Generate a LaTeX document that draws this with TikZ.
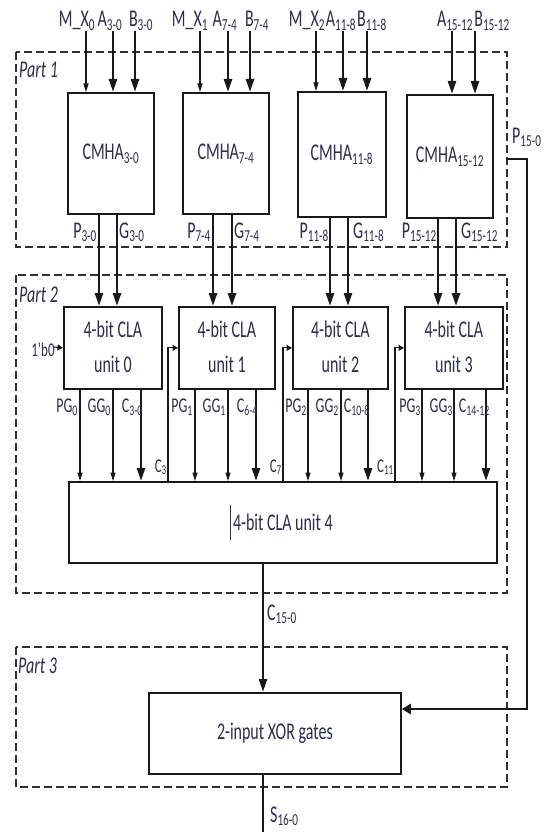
\documentclass[tikz,border=0pt]{standalone}
\usepackage{fontspec}
\setmainfont{Carlito}
\usepackage{graphicx}
\usetikzlibrary{arrows.meta}
\definecolor{textc}{RGB}{45,45,80}
\definecolor{linec}{RGB}{25,25,25}
\newcommand{\tallt}[1]{\scalebox{1}[1.5]{#1}}
\newcommand{\sbs}[1]{\textsubscript{#1}}
\begin{document}
\begin{tikzpicture}[x=1pt,y=-1pt,
  box/.style={draw=linec, line width=1.8pt, inner sep=0pt, anchor=north west,
    font=\fontsize{16}{23}\selectfont, text=textc},
  dashbox/.style={draw=linec!90, line width=1.8pt, dash pattern=on 8pt off 4pt},
  lab/.style={font=\fontsize{16}{19}\selectfont, text=textc, inner sep=0pt},
  slab/.style={font=\fontsize{14}{17}\selectfont, text=textc, inner sep=0pt},
  tlab/.style={font=\fontsize{13}{16}\selectfont, text=textc, inner sep=0pt},
  plab/.style={font=\fontsize{16}{19}\selectfont\itshape, text=textc, inner sep=0pt, anchor=west},
  thk/.style={draw=linec, line width=2.6pt, -{Triangle[length=13pt,width=8pt]}},
  thn/.style={draw=linec, line width=1.1pt, -{Triangle[length=8.5pt,width=5pt]}},
  harr/.style={draw=linec, line width=1.1pt, -{Triangle[length=5.5pt,width=6pt]}},
  parr/.style={draw=linec, line width=2.4pt, -{Triangle[length=9pt,width=10pt]}},
  thkline/.style={draw=linec, line width=2.6pt}
]
\useasboundingbox (0,0) rectangle (546,832);
\fill[white] (0,0) rectangle (546,832);

% dashed part frames
\draw[dashbox] (16,52) rectangle (507,247);
\draw[dashbox] (16,275) rectangle (507,593);
\draw[dashbox] (16,647) rectangle (507,787);
\node[plab] (part1) at (19,70) {\tallt{Part 1}};
\node[plab] (part2) at (19,295) {\tallt{Part 2}};
\node[plab] (part3) at (18,666) {\tallt{Part 3}};

% CMHA boxes
\node[box, minimum width=86pt, minimum height=121pt] (m0) at (67,92) {\tallt{CMHA\sbs{3-0}}};
\node[box, minimum width=86pt, minimum height=121pt] (m1) at (182,92) {\tallt{CMHA\sbs{7-4}}};
\node[box, minimum width=88pt, minimum height=125pt] (m2) at (297,91) {\tallt{CMHA\sbs{11-8}}};
\node[box, minimum width=86pt, minimum height=123pt] (m3) at (406,94) {\tallt{CMHA\sbs{15-12}}};

% CLA units
\node[box, minimum width=98pt, minimum height=82pt] (c0) at (63,306) {\tallt{\begin{tabular}{@{}c@{}}4-bit CLA\\unit 0\end{tabular}}};
\node[box, minimum width=96pt, minimum height=82pt] (c1) at (178,306) {\tallt{\begin{tabular}{@{}c@{}}4-bit CLA\\unit 1\end{tabular}}};
\node[box, minimum width=95pt, minimum height=82pt] (c2) at (292,306) {\tallt{\begin{tabular}{@{}c@{}}4-bit CLA\\unit 2\end{tabular}}};
\node[box, minimum width=98pt, minimum height=82pt] (c3) at (404,306) {\tallt{\begin{tabular}{@{}c@{}}4-bit CLA\\unit 3\end{tabular}}};
\node[box, minimum width=428pt, minimum height=81pt] (u4) at (68,481) {\tallt{4-bit CLA unit 4}};
\draw[textc, line width=1pt] (230.5,505) -- (230.5,540);

% XOR
\node[box, minimum width=252pt, minimum height=81pt] (xor) at (148,692) {\tallt{2-input XOR gates}};

% input labels
\node[lab, anchor=base] (lmx0) at (77,27) {\tallt{M\_X\sbs{0}}};
\node[lab, anchor=base] (la0) at (110,27) {\tallt{A\sbs{3-0}}};
\node[lab, anchor=base] (lb0) at (141,27) {\tallt{B\sbs{3-0}}};
\node[lab, anchor=base] (lmx1) at (190,27) {\tallt{M\_X\sbs{1}}};
\node[lab, anchor=base] (la1) at (225,27) {\tallt{A\sbs{7-4}}};
\node[lab, anchor=base] (lb1) at (257,27) {\tallt{B\sbs{7-4}}};
\node[lab, anchor=base] (lmx2) at (307,27) {\tallt{M\_X\sbs{2}}};
\node[lab, anchor=base] (la2) at (341,27) {\tallt{A\sbs{11-8}}};
\node[lab, anchor=base] (lb2) at (372,27) {\tallt{B\sbs{11-8}}};
\node[lab, anchor=base] (la3) at (455,27) {\tallt{A\sbs{15-12}}};
\node[lab, anchor=base] (lb3) at (492,27) {\tallt{B\sbs{15-12}}};

% input arrows
\draw[thn] (86,0 |- lmx0.south) -- (86,0 |- m0.north);
\draw[thk] (113,0 |- la0.south) -- (113,0 |- m0.north);
\draw[thk] (135,0 |- lb0.south) -- (135,0 |- m0.north);
\draw[thn] (200,0 |- lmx1.south) -- (200,0 |- m1.north);
\draw[thk] (228,0 |- la1.south) -- (228,0 |- m1.north);
\draw[thk] (250,0 |- lb1.south) -- (250,0 |- m1.north);
\draw[thn] (316,0 |- lmx2.south) -- (316,0 |- m2.north);
\draw[thk] (343,0 |- la2.south) -- (343,0 |- m2.north);
\draw[thk] (367,0 |- lb2.south) -- (367,0 |- m2.north);
\draw[thk] (452,0 |- la3.south) -- (452,0 |- m3.north);
\draw[thk] (475,0 |- lb3.south) -- (475,0 |- m3.north);

% P/G outputs
\draw[thk] (99,0 |- m0.south) -- (99,0 |- c0.north);
\draw[thk] (117,0 |- m0.south) -- (117,0 |- c0.north);
\draw[thk] (213,0 |- m1.south) -- (213,0 |- c1.north);
\draw[thk] (232,0 |- m1.south) -- (232,0 |- c1.north);
\draw[thk] (330,0 |- m2.south) -- (330,0 |- c2.north);
\draw[thk] (348,0 |- m2.south) -- (348,0 |- c2.north);
\draw[thk] (438,0 |- m3.south) -- (438,0 |- c3.north);
\draw[thk] (456,0 |- m3.south) -- (456,0 |- c3.north);
\node[lab, anchor=base east] (lp0) at (97,238) {\tallt{P\sbs{3-0}}};
\node[lab, anchor=base west] (lg0) at (119,238) {\tallt{G\sbs{3-0}}};
\node[lab, anchor=base east] (lp1) at (211,238) {\tallt{P\sbs{7-4}}};
\node[lab, anchor=base west] (lg1) at (234,238) {\tallt{G\sbs{7-4}}};
\node[lab, anchor=base east] (lp2) at (329,238) {\tallt{P\sbs{11-8}}};
\node[lab, anchor=base west] (lg2) at (353,238) {\tallt{G\sbs{11-8}}};
\node[lab, anchor=base east] (lp3) at (437,238) {\tallt{P\sbs{15-12}}};
\node[lab, anchor=base west] (lg3) at (461,238) {\tallt{G\sbs{15-12}}};

% carry in
\node[tlab] (lzero) at (43,350) {\tallt{1'b0}};
\coordinate (b0) at (54,347);
\draw[harr] (b0) -- (c0.west);

% unit outputs to unit 4
\draw[thn] (80,0 |- c0.south) -- (80,0 |- u4.north);
\draw[thn] (113,0 |- c0.south) -- (113,0 |- u4.north);
\draw[thk] (141,0 |- c0.south) -- (141,0 |- u4.north);
\draw[thn] (195,0 |- c1.south) -- (195,0 |- u4.north);
\draw[thn] (228,0 |- c1.south) -- (228,0 |- u4.north);
\draw[thk] (256,0 |- c1.south) -- (256,0 |- u4.north);
\draw[thn] (308,0 |- c2.south) -- (308,0 |- u4.north);
\draw[thn] (341,0 |- c2.south) -- (341,0 |- u4.north);
\draw[thk] (368,0 |- c2.south) -- (368,0 |- u4.north);
\draw[thn] (422,0 |- c3.south) -- (422,0 |- u4.north);
\draw[thn] (454,0 |- c3.south) -- (454,0 |- u4.north);
\draw[thk] (486,0 |- c3.south) -- (486,0 |- u4.north);

\node[slab, anchor=base east] at (78,412) {\tallt{PG\sbs{0}}};
\node[slab, anchor=base east] at (111,412) {\tallt{GG\sbs{0}}};
\node[slab, anchor=base east] at (143,412) {\tallt{C\sbs{3-0}}};
\node[slab, anchor=base east] at (193,412) {\tallt{PG\sbs{1}}};
\node[slab, anchor=base east] at (226,412) {\tallt{GG\sbs{1}}};
\node[slab, anchor=base east] at (258,412) {\tallt{C\sbs{6-4}}};
\node[slab, anchor=base east] at (307,412) {\tallt{PG\sbs{2}}};
\node[slab, anchor=base east] at (339,412) {\tallt{GG\sbs{2}}};
\node[slab, anchor=base east] at (370,412) {\tallt{C\sbs{10-8}}};
\node[slab, anchor=base east] at (421,412) {\tallt{PG\sbs{3}}};
\node[slab, anchor=base east] at (453,412) {\tallt{GG\sbs{3}}};
\node[slab, anchor=base east] at (490,412) {\tallt{C\sbs{14-12}}};

% carry chain from unit 4
\draw[harr] (168,0 |- u4.north) |- (c1.west);
\draw[harr] (283,0 |- u4.north) |- (c2.west);
\draw[harr] (395,0 |- u4.north) |- (c3.west);
\node[tlab, anchor=base east] at (167,472) {\tallt{C\sbs{3}}};
\node[tlab, anchor=base east] at (282,472) {\tallt{C\sbs{7}}};
\node[tlab, anchor=base east] at (394,472) {\tallt{C\sbs{11}}};

% unit 4 to XOR
\draw[thk] (263,0 |- u4.south) -- (263,0 |- xor.north);
\node[lab, anchor=base west] (lc15) at (267,620) {\tallt{C\sbs{15-0}}};

% XOR output
\coordinate (sout) at (263,832);
\draw[thkline] (263,0 |- xor.south) -- (sout);
\node[lab, anchor=base west] (ls16) at (270,822) {\tallt{S\sbs{16-0}}};

% P15-0 path
\coordinate (p15) at (507,159);
\draw[parr] (p15) -- (527,159) -- (527,709) -- (xor.east |- 0,709);
\node[lab, anchor=base west] (lp15) at (512,143) {\tallt{P\sbs{15-0}}};
\end{tikzpicture}
\end{document}
